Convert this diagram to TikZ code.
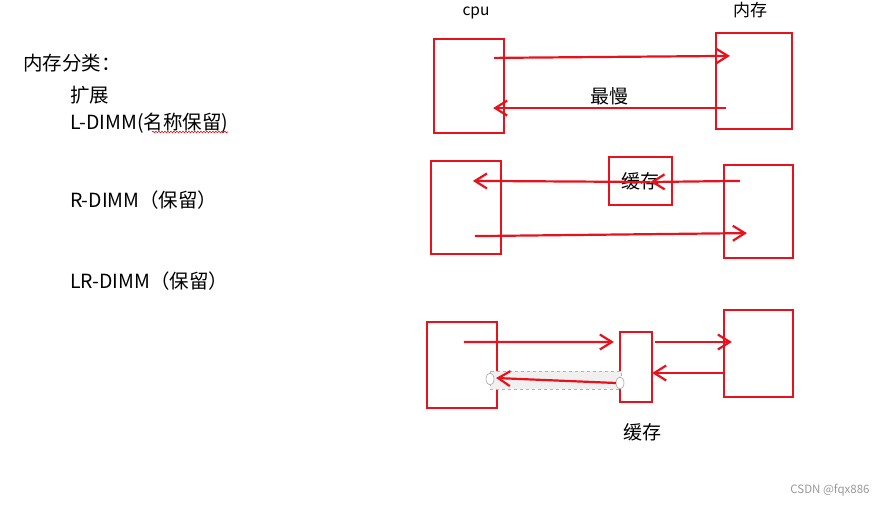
\documentclass[tikz,border=0pt]{standalone}
\usepackage{fontspec}
\setmainfont{Noto Sans CJK SC}
\usepackage{tikz}
\usetikzlibrary{positioning, arrows.meta, decorations.pathmorphing}
\definecolor{boxred}{RGB}{232,18,28}

\begin{document}
\begin{tikzpicture}[x=1pt, y=-1pt,
    box/.style={draw=boxred, line width=2.2pt, inner sep=0pt},
    arr/.style={draw=boxred, line width=2.2pt, -{Straight Barb[length=12pt,width=15pt]}},
    txt/.style={anchor=west, inner sep=0pt, font=\fontsize{19.5}{22}\selectfont},
    lbl/.style={inner sep=0pt, font=\fontsize{19}{22}\selectfont}]
    \fill[white] (0,0) rectangle (885,505);
    \useasboundingbox (0,0) rectangle (885,505);

    % left column
    \node[txt] (title) at (23,63) {内存分类：};
    \node[txt] (ext) at (70,95) {扩展};
    \node[txt] (l-dimm) at (70,123) {L-DIMM(名称保留)};
    \node[txt] (r-dimm) at (70,200) {R-DIMM（保留）};
    \node[txt] (lr-dimm) at (70,281) {LR-DIMM（保留）};
    \draw[boxred, line width=0.6pt, decorate, decoration={snake, amplitude=0.8pt, segment length=3pt}] (152,132) -- (228,132);

    % cpu <-> memory
    \node[box, minimum width=70pt, minimum height=94pt] (cpu-a) at (469,86) {};
    \node[box, minimum width=76pt, minimum height=96pt] (mem-a) at (754,81) {};
    \node[lbl, font=\fontsize{15.5}{18}\selectfont] (cpu-label) at (476,13) {cpu};
    \node[lbl, font=\fontsize{17}{20}\selectfont] (mem-label) at (750,10) {内存};
    \draw[arr] ([shift={(-11,20)}]cpu-a.north east) -- ([shift={(15,24)}]mem-a.north west);
    \draw[arr] ([shift={(11,-22)}]mem-a.south west) -- node[lbl, above=2pt] (slow) {最慢} ([shift={(-12,-26)}]cpu-a.south east);

    % with cache in between
    \node[box, minimum width=70pt, minimum height=93pt] (cpu-b) at (466,207.5) {};
    \node[box, minimum width=63pt, minimum height=48pt] (cache-b) at (640.5,181) {};
    \node[box, minimum width=69pt, minimum height=93pt] (mem-b) at (758.5,211.5) {};
    \node[lbl] (cache-b-label) at (cache-b) {缓存};
    \draw[arr] ([shift={(17,17)}]mem-b.north west) -- ([shift={(10,1)}]cache-b.center);
    \draw[arr] ([shift={(10,1)}]cache-b.center) -- ([shift={(43,21)}]cpu-b.north west);
    \draw[arr] ([shift={(45,-19)}]cpu-b.south west) -- ([shift={(24,-26)}]mem-b.south west);

    % cache as a stage
    \node[box, minimum width=70pt, minimum height=86pt] (cpu-c) at (462,365) {};
    \node[box, minimum width=32pt, minimum height=70pt] (cache-c) at (636,367) {};
    \node[box, minimum width=69pt, minimum height=87pt] (mem-c) at (758.5,353.5) {};
    \node[lbl, below=20pt of cache-c, xshift=6pt] (cache-c-label) {缓存};
    \draw[gray!60, dashed, fill=gray!12, line width=0.6pt] (490,371) rectangle (621,389);
    \draw[gray!70, fill=white, line width=0.6pt] (490,379) ellipse (4pt and 6pt);
    \draw[gray!70, fill=white, line width=0.6pt] (620,383) ellipse (4pt and 6pt);
    \draw[arr] ([shift={(38,21)}]cpu-c.north west) -- ([shift={(-5,-25)}]cache-c.west);
    \draw[arr] ([shift={(2,-25)}]cache-c.east) -- ([shift={(9,-11.5)}]mem-c.west);
    \draw[arr] ([shift={(2,19.5)}]mem-c.west) -- ([shift={(-1,6)}]cache-c.east);
    \draw[arr] ([shift={(-3,16)}]cache-c.west) -- ([shift={(-2,13)}]cpu-c.east);

    \node[inner sep=0pt, gray!80, font=\fontsize{11.5}{13}\selectfont] (csdn) at (830,490) {CSDN @fqx886};
\end{tikzpicture}
\end{document}
